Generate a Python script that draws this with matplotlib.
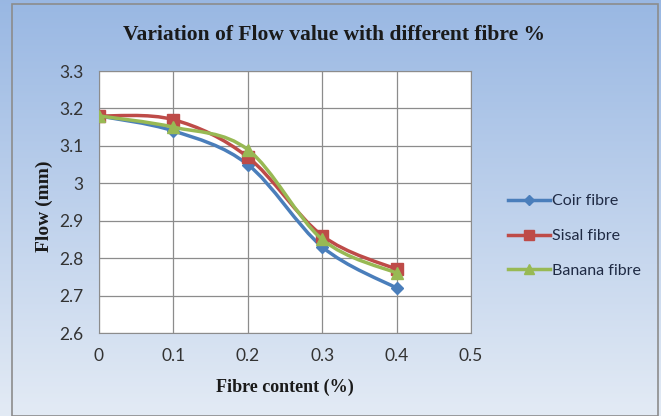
import numpy as np
import matplotlib.pyplot as plt
from matplotlib.path import Path
from matplotlib.patches import PathPatch, Rectangle

fibre = [0, 0.1, 0.2, 0.3, 0.4]
coir = [3.18, 3.14, 3.05, 2.83, 2.72]
sisal = [3.18, 3.17, 3.07, 2.86, 2.77]
banana = [3.18, 3.15, 3.09, 2.85, 2.76]
names = ["Coir fibre", "Sisal fibre", "Banana fibre"]

colors = ["#4a7ebb", "#be4b48", "#98b954"]
markers = ["D", "s", "^"]
msizes = [6, 8, 8]


def smooth_path(xs, ys):
    """Bezier path through the points (like Excel smoothed lines)"""
    pts = np.column_stack([xs, ys]).astype(float)
    verts = [pts[0]]
    codes = [Path.MOVETO]
    n = len(pts)
    for i in range(n - 1):
        p0 = pts[max(i - 1, 0)]
        p1 = pts[i]
        p2 = pts[i + 1]
        p3 = pts[min(i + 2, n - 1)]
        c1 = p1 + (p2 - p0) / 6.0
        c2 = p2 - (p3 - p1) / 6.0
        verts += [c1, c2, p2]
        codes += [Path.CURVE4] * 3
    return Path(verts, codes)


def main():
    fig = plt.figure(figsize=(6.61, 4.16), dpi=100)

    # gradient background
    bg = fig.add_axes([0, 0, 1, 1], zorder=-10)
    grad = np.linspace(0, 1, 256).reshape(-1, 1)
    top = np.array([0.60, 0.72, 0.89])
    bot = np.array([0.89, 0.92, 0.96])
    img = top + (bot - top) * grad[:, :, None]
    bg.imshow(img, aspect="auto", extent=[0, 1, 0, 1])
    bg.add_patch(Rectangle((12 / 661, 0.0), 646 / 661, 1 - 4 / 416,
                           fill=False, edgecolor="#8c8c8c", lw=1.2))
    bg.set_xlim(0, 1)
    bg.set_ylim(0, 1)
    bg.axis("off")

    ax = fig.add_axes([99 / 661, 1 - 333 / 416, 372 / 661, 262 / 416])
    ax.set_facecolor("white")
    for i, ys in enumerate([coir, sisal, banana]):
        path = smooth_path(fibre, ys)
        ax.add_patch(PathPatch(path, facecolor="none", edgecolor=colors[i],
                               lw=2.5, zorder=3 + i))
        ax.plot(fibre, ys, linestyle="none", marker=markers[i],
                color=colors[i], markersize=msizes[i], zorder=3 + i)
        ax.plot([], [], color=colors[i], lw=2.5, marker=markers[i],
                markersize=msizes[i] - 1, label=names[i])

    ax.set_xlim(0, 0.5)
    ax.set_ylim(2.6, 3.3)
    ax.set_xticks([0, 0.1, 0.2, 0.3, 0.4, 0.5])
    ax.set_xticklabels(["0", "0.1", "0.2", "0.3", "0.4", "0.5"])
    ax.set_yticks([2.6, 2.7, 2.8, 2.9, 3.0, 3.1, 3.2, 3.3])
    ax.set_yticklabels(["2.6", "2.7", "2.8", "2.9", "3", "3.1", "3.2", "3.3"])
    ax.grid(True, color="#8c8c8c", lw=0.9)
    ax.set_axisbelow(True)
    ax.tick_params(length=0, labelsize=12.5, colors="#333333", pad=11)
    for lab in ax.get_xticklabels() + ax.get_yticklabels():
        lab.set_family("Lato")
    for s in ax.spines.values():
        s.set_color("#8c8c8c")

    fig.text(0.505, 1 - 35 / 416, "Variation of Flow value with different fibre %",
             ha="center", va="center", fontsize=15.5, fontweight="bold",
             family="Liberation Serif", color="#1a1a1a")
    fig.text(285 / 661, 1 - 387 / 416, "Fibre content (%)", ha="center",
             va="center", fontsize=13, fontweight="bold",
             family="Liberation Serif", color="#1a1a1a")
    fig.text(44 / 661, 1 - 206 / 416, "Flow (mm)", ha="center", va="center",
             rotation=90, fontsize=14, fontweight="bold",
             family="Liberation Serif", color="#1a1a1a")

    fig.legend(loc="center left", bbox_to_anchor=(494 / 661, 1 - 236 / 416),
               frameon=False, prop={"family": "Lato", "size": 11.5},
               handlelength=2.6, handletextpad=0.1, labelspacing=1.3,
               labelcolor="#1f2a44")

    fig.savefig("out.png", dpi=100)


if __name__ == "__main__":
    main()
